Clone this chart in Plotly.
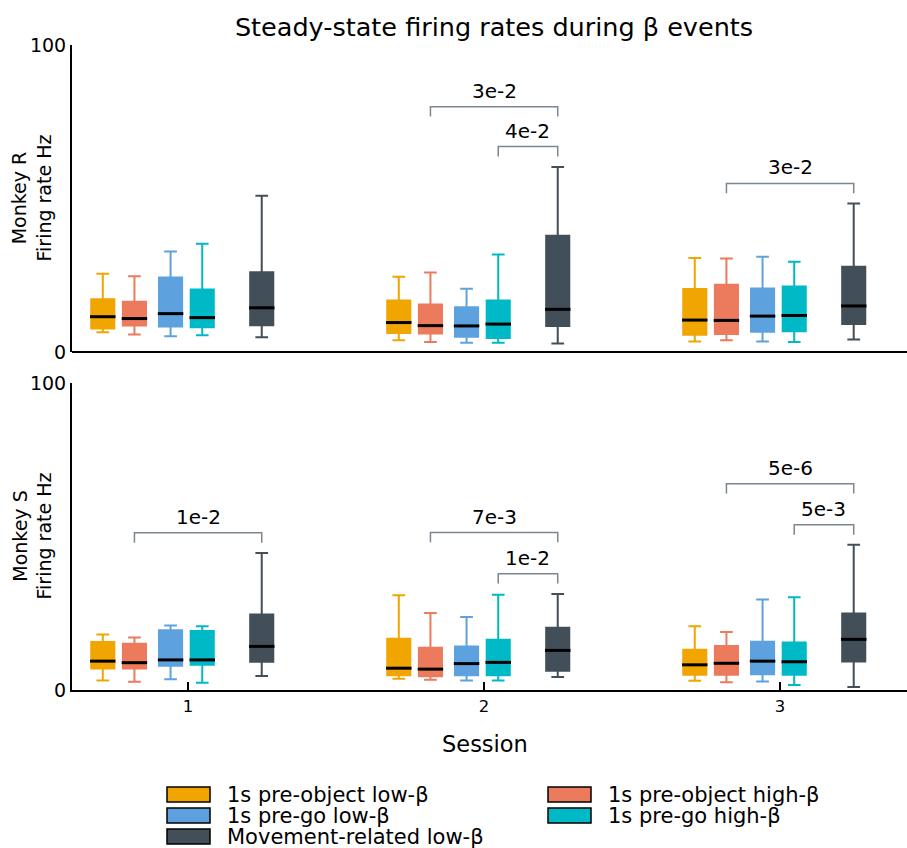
import plotly.graph_objects as go

# ---- data -------------------------------------------------------------
sessions = [1, 2, 3]
session_labels = ["1", "2", "3"]
conditions = [
    "1s pre-object low-β",
    "1s pre-object high-β",
    "1s pre-go low-β",
    "1s pre-go high-β",
    "Movement-related low-β",
]
colors = ["#F0A500", "#EC7A5C", "#5DA2DE", "#00B9C7", "#434F58"]
offsets = [-0.288, -0.181, -0.059, 0.048, 0.249]

# Monkey R: one row per condition, one value per session
r_lower = [[6.4, 3.8, 3.4], [5.7, 3.3, 3.8], [5.1, 3.0, 3.4], [5.5, 3.0, 3.3], [4.8, 2.8, 4.1]]
r_q1 = [[7.7, 6.2, 5.6], [8.6, 6.0, 5.9], [8.3, 5.0, 6.6], [8.1, 4.6, 6.8], [8.7, 8.5, 9.1]]
r_median = [[11.5, 9.6, 10.4], [10.9, 8.6, 10.3], [12.5, 8.5, 11.7], [11.2, 9.1, 11.9], [14.4, 13.9, 15.0]]
r_q3 = [[17.2, 16.8, 20.5], [16.4, 15.5, 21.9], [24.3, 14.6, 20.7], [20.4, 16.8, 21.3], [26.0, 37.9, 27.8]]
r_upper = [[25.5, 24.5, 30.6], [24.7, 25.9, 30.5], [32.7, 20.6, 31.0], [35.3, 31.8, 29.4], [50.9, 60.3, 48.4]]

# Monkey S
s_lower = [[3.1, 3.7, 3.0], [2.7, 3.3, 2.5], [3.5, 3.1, 2.8], [2.4, 3.1, 1.6], [4.6, 4.2, 1.0]]
s_q1 = [[7.0, 4.8, 5.0], [7.0, 4.5, 5.0], [7.9, 4.8, 5.1], [8.2, 4.8, 5.0], [9.2, 6.3, 9.3]]
s_median = [[9.4, 7.1, 8.2], [8.9, 6.8, 8.7], [9.8, 8.6, 9.4], [9.8, 9.0, 9.2], [14.2, 12.9, 16.5]]
s_q3 = [[15.6, 16.7, 13.1], [15.1, 13.8, 14.3], [19.5, 14.2, 15.7], [19.2, 16.4, 15.5], [24.6, 20.3, 24.9]]
s_upper = [[18.1, 30.9, 20.8], [17.1, 25.1, 18.9], [21.0, 23.8, 29.5], [20.8, 31.0, 30.2], [44.6, 31.3, 47.3]]

# significance brackets between two conditions of one session
brk_panel = ["R", "R", "R", "S", "S", "S", "S", "S"]
brk_session = [2, 2, 3, 1, 2, 2, 3, 3]
brk_from = [1, 3, 1, 1, 1, 3, 1, 3]
brk_to = [4, 4, 4, 4, 4, 4, 4, 4]
brk_height = [79.9, 66.9, 54.9, 51.2, 51.3, 37.9, 67.2, 53.8]
brk_label = ["3e-2", "4e-2", "3e-2", "1e-2", "7e-3", "1e-2", "5e-6", "5e-3"]

panel_names = ["Monkey R", "Monkey S"]

# ---- layout helpers ---------------------------------------------------
W, H = 907, 848
ML, MR, MT, MB = 72, 0, 45, 158
PW, PH = W - ML - MR, H - MT - MB
FONT = "DejaVu Sans"


def px_x(px):
    return (px - ML) / PW


def px_y(py):
    return (H - MB - py) / PH


BOX_W = 0.078
MED_HALF = 0.043
BRK_DROP = 3.2

fig = go.Figure()

panels = [
    ("y", r_lower, r_q1, r_median, r_q3, r_upper),
    ("y2", s_lower, s_q1, s_median, s_q3, s_upper),
]

for yref, lo, q1, med, q3, up in panels:
    for c, name in enumerate(conditions):
        xs = [s + offsets[c] for s in sessions]
        fig.add_trace(go.Box(
            x=xs, lowerfence=lo[c], q1=q1[c], median=med[c], q3=q3[c], upperfence=up[c],
            width=BOX_W, whiskerwidth=0.55, fillcolor=colors[c],
            line=dict(color=colors[c], width=2), boxpoints=False,
            name=name, showlegend=False, xaxis="x", yaxis=yref,
        ))
    # black median bars
    mx, my = [], []
    for c in range(len(conditions)):
        for i, s in enumerate(sessions):
            x0 = s + offsets[c]
            mx += [x0 - MED_HALF, x0 + MED_HALF, None]
            my += [med[c][i], med[c][i], None]
    fig.add_trace(go.Scatter(x=mx, y=my, mode="lines", line=dict(color="black", width=3),
                             showlegend=False, hoverinfo="skip", xaxis="x", yaxis=yref))

# significance brackets
annotations = []
for p, s, a, b, h, lab in zip(brk_panel, brk_session, brk_from, brk_to, brk_height, brk_label):
    yref = "y" if p == "R" else "y2"
    xa, xb = s + offsets[a], s + offsets[b]
    fig.add_trace(go.Scatter(
        x=[xa, xa, xb, xb], y=[h - BRK_DROP, h, h, h - BRK_DROP], mode="lines",
        line=dict(color="#7C868E", width=1.5), showlegend=False, hoverinfo="skip",
        xaxis="x", yaxis=yref,
    ))
    annotations.append(dict(
        x=(xa + xb) / 2, y=h, xref="x", yref=yref, text=lab, showarrow=False,
        yanchor="middle", yshift=16, font=dict(family=FONT, size=20, color="black"),
    ))

# panel y titles
for name, dom in zip(panel_names, [(0.524, 1.0), (0.0, 0.476)]):
    annotations.append(dict(
        x=px_x(32), y=(dom[0] + dom[1]) / 2, xref="paper", yref="paper",
        text=f"{name}<br>Firing rate Hz", textangle=-90, showarrow=False,
        xanchor="center", yanchor="middle",
        font=dict(family=FONT, size=19, color="black"),
    ))

# x axis title
annotations.append(dict(
    x=px_x(484.5), y=px_y(744), xref="paper", yref="paper", text="Session",
    showarrow=False, xanchor="center", yanchor="middle",
    font=dict(family=FONT, size=22.5, color="black"),
))

# legend (two columns, filled row by row)
shapes = []
col_x = [167, 548]
row_y = [794.5, 815.5, 836.5]
for c, name in enumerate(conditions):
    cx = col_x[c % 2]
    cy = row_y[c // 2]
    shapes.append(dict(
        type="rect", xref="paper", yref="paper",
        x0=px_x(cx), x1=px_x(cx + 43), y0=px_y(cy + 7.5), y1=px_y(cy - 7.5),
        fillcolor=colors[c], line=dict(color="black", width=1.5),
    ))
    annotations.append(dict(
        x=px_x(cx + 59), y=px_y(cy), xref="paper", yref="paper", text=name,
        showarrow=False, xanchor="left", yanchor="middle", borderpad=0,
        font=dict(family=FONT, size=21, color="black"),
    ))

axis_common = dict(
    showline=True, linecolor="black", linewidth=2, showgrid=False, zeroline=False,
)

fig.update_layout(
    width=W, height=H,
    margin=dict(l=ML, r=MR, t=MT, b=MB),
    paper_bgcolor="white", plot_bgcolor="white",
    boxmode="overlay",
    title=dict(text="Steady-state firing rates during β events", x=494 / W, xref="container",
               y=1 - 27 / H, yref="container", xanchor="center", yanchor="middle",
               font=dict(family=FONT, size=25.5, color="black")),
    font=dict(family=FONT, color="black"),
    xaxis=dict(range=[0.608, 3.429], tickvals=sessions, ticktext=session_labels,
               ticks="inside", ticklen=8, tickwidth=1.5, tickcolor="black",
               tickfont=dict(family=FONT, size=16.5, color="black"),
               anchor="y2", **axis_common),
    yaxis=dict(domain=[0.524, 1.0], range=[0, 100], tickvals=[0, 100], ticks="inside",
               ticklen=7, tickwidth=1.5, tickcolor="black", anchor="x",
               tickfont=dict(family=FONT, size=19, color="black"), **axis_common),
    yaxis2=dict(domain=[0.0, 0.476], range=[0, 100], tickvals=[0, 100], ticks="inside",
                ticklen=7, tickwidth=1.5, tickcolor="black", anchor="x",
                tickfont=dict(family=FONT, size=19, color="black"), **axis_common),
    annotations=annotations,
    shapes=shapes,
)

# a plain x axis line for the upper panel
fig.add_shape(type="line", xref="paper", yref="paper", x0=0, x1=1, y0=0.524, y1=0.524,
              line=dict(color="black", width=2))

fig.write_html("out.html")
